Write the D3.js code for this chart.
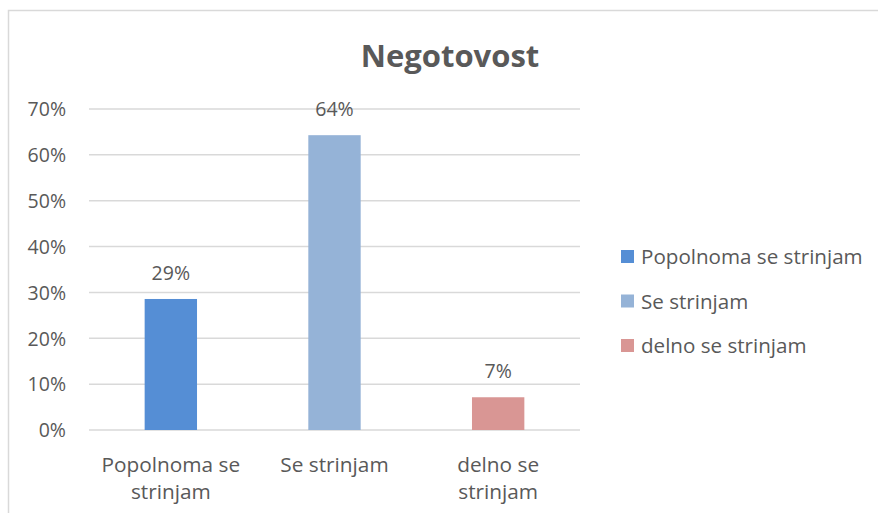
<!DOCTYPE html>
<html>
<head>
<meta charset="utf-8">
<script src="https://cdn.jsdelivr.net/npm/d3@7"></script>
<style>
  body { margin: 0; background: #fff; }
  text { font-family: "Open Sans", Lato, sans-serif; fill: #595959; }
</style>
</head>
<body>
<svg id="chart" width="878" height="513"></svg>
<script>
    "use strict";
    // chart data
    var categories = ["Popolnoma se strinjam", "Se strinjam", "delno se strinjam"],
        catLabels = [["Popolnoma se", "strinjam"], ["Se strinjam"], ["delno se", "strinjam"]],
        values = [0.2857, 0.6429, 0.0714],
        valueLabels = ["29%", "64%", "7%"],
        colors = ["#558ed5", "#95b3d7", "#d99694"],
        yTicks = [0, 0.1, 0.2, 0.3, 0.4, 0.5, 0.6, 0.7];

    var svg = d3.select("#chart");
    var plot = { left: 89, right: 580, top: 109, bottom: 430 };

    // chart area frame
    svg.append("rect").attr("x", 8.5).attr("y", 10.5).attr("width", 900).attr("height", 600)
        .attr("fill", "#fff").attr("stroke", "#d9d9d9").attr("stroke-width", 1.5);

    var x = d3.scaleBand().domain(categories).range([plot.left, plot.right]).paddingInner(0.68).paddingOuter(0.34);
    var y = d3.scaleLinear().domain([0, 0.7]).range([plot.bottom, plot.top]);

    // gridlines
    svg.append("g").selectAll("line").data(yTicks).join("line")
        .attr("x1", plot.left).attr("x2", plot.right)
        .attr("y1", function (d) { return y(d); }).attr("y2", function (d) { return y(d); })
        .attr("stroke", "#d9d9d9").attr("stroke-width", 1.5);

    // y axis labels
    var yAxis = d3.axisLeft(y).tickValues(yTicks).tickFormat(d3.format(".0%")).tickSize(0).tickPadding(23);
    var ya = svg.append("g").attr("transform", "translate(" + plot.left + ",0)").call(yAxis);
    ya.select(".domain").remove();
    ya.selectAll("text").style("font-size", "19.5px").attr("fill", "#595959").attr("dy", "0.35em");

    // bars
    svg.append("g").selectAll("rect").data(values).join("rect")
        .attr("x", function (d, i) { return x(categories[i]); })
        .attr("width", x.bandwidth())
        .attr("y", function (d) { return y(d); })
        .attr("height", function (d) { return y(0) - y(d); })
        .attr("fill", function (d, i) { return colors[i]; });

    // value labels
    svg.append("g").selectAll("text").data(values).join("text")
        .attr("x", function (d, i) { return x(categories[i]) + x.bandwidth() / 2; })
        .attr("y", function (d) { return y(d) - 19; })
        .attr("text-anchor", "middle").style("font-size", "19.5px")
        .text(function (d, i) { return valueLabels[i]; });

    // category labels
    var cl = svg.append("g").selectAll("text").data(catLabels).join("text")
        .attr("x", function (d, i) { return x(categories[i]) + x.bandwidth() / 2; })
        .attr("y", 472).attr("text-anchor", "middle").style("font-size", "20.8px");
    cl.selectAll("tspan").data(function (d) { return d; }).join("tspan")
        .attr("x", function () { return d3.select(this.parentNode).attr("x"); })
        .attr("dy", function (d, i) { return i === 0 ? 0 : 27; })
        .text(function (d) { return d; });

    // title
    svg.append("text").attr("x", 450).attr("y", 67).attr("text-anchor", "middle")
        .style("font-size", "31px").style("font-weight", "bold").text("Negotovost");

    // legend
    var lg = svg.append("g").selectAll("g").data(categories).join("g")
        .attr("transform", function (d, i) { return "translate(621," + (250 + i * 44.5) + ")"; });
    lg.append("rect").attr("width", 13).attr("height", 13).attr("fill", function (d, i) { return colors[i]; });
    lg.append("text").attr("x", 20).attr("y", 7).attr("dy", "0.35em").style("font-size", "20.6px")
        .text(function (d) { return d; });
</script>
</body>
</html>
